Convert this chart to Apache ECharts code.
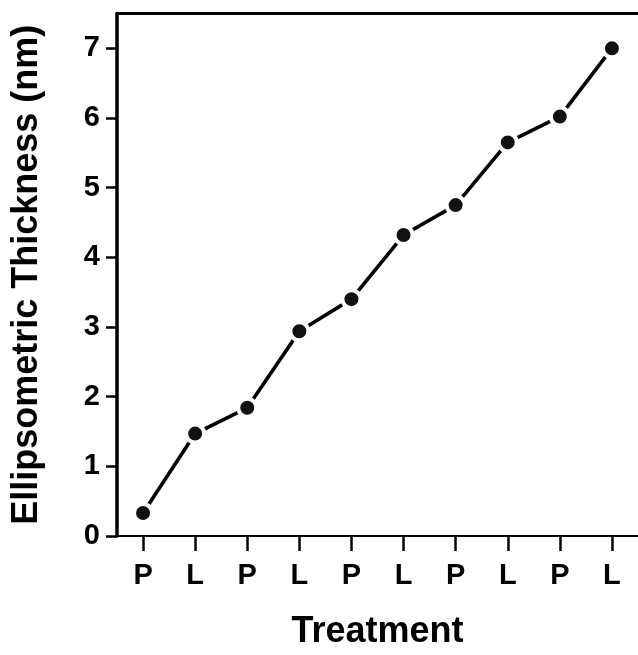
<!DOCTYPE html>
<html>
<head>
<meta charset="utf-8">
<script src="https://cdn.jsdelivr.net/npm/echarts@6/dist/echarts.min.js"></script>
<style>
html,body{margin:0;padding:0;background:#fff;}
#chart{width:638px;height:655px;}
</style>
</head>
<body>
<div id="chart"></div>
<script>
const categories = ['P','L','P','L','P','L','P','L','P','L'];
const thickness = [0.33, 1.47, 1.84, 2.94, 3.40, 4.32, 4.75, 5.65, 6.02, 7.00];
const yTicks = [0, 1, 2, 3, 4, 5, 6, 7];
const yTitle = 'Ellipsometric Thickness (nm)';
const xTitle = 'Treatment';

const FONT = '"Liberation Sans", Arial, Helvetica, sans-serif';
const chart = echarts.init(document.getElementById('chart'), null, {renderer: 'canvas'});
chart.setOption({
  animation: false,
  backgroundColor: '#fff',
  grid: {left: 117, top: 13.5, right: -4, bottom: 116, containLabel: false},
  xAxis: [{
    type: 'category',
    data: categories,
    boundaryGap: true,
    position: 'bottom',
    name: xTitle,
    nameLocation: 'middle',
    nameGap: 78,
    nameTextStyle: {fontFamily: FONT, fontWeight: 'bold', fontSize: 36, color: '#000'},
    axisLine: {show: true, lineStyle: {color: '#000', width: 2}},
    axisTick: {show: true, alignWithLabel: true, interval: 0, length: 15, lineStyle: {color: '#000', width: 2.5}},
    axisLabel: {show: true, interval: 0, margin: 25, fontFamily: FONT, fontWeight: 'bold', fontSize: 29, color: '#000'},
    splitLine: {show: false}
  }, {
    type: 'category',
    data: categories,
    position: 'top',
    axisLine: {show: true, lineStyle: {color: '#000', width: 3}},
    axisTick: {show: false},
    axisLabel: {show: false},
    splitLine: {show: false}
  }],
  yAxis: {
    type: 'value',
    min: 0,
    max: 7.5,
    interval: 1,
    name: yTitle,
    nameLocation: 'middle',
    nameGap: 72,
    nameRotate: 90,
    nameTextStyle: {fontFamily: FONT, fontWeight: 'bold', fontSize: 36, color: '#000'},
    axisLine: {show: true, lineStyle: {color: '#000', width: 3.5}},
    axisTick: {show: true, length: 11, customValues: yTicks, lineStyle: {color: '#000', width: 2.5}},
    axisLabel: {show: true, margin: 17, customValues: yTicks, fontFamily: FONT, fontWeight: 'bold', fontSize: 29, color: '#000'},
    splitLine: {show: false}
  },
  series: [{
    type: 'line',
    data: thickness,
    xAxisIndex: 0,
    symbol: 'circle',
    symbolSize: 18,
    lineStyle: {color: '#000', width: 3.6},
    itemStyle: {color: '#111', borderColor: '#fff', borderWidth: 4},
    emphasis: {disabled: true},
    z: 5
  }]
});
</script>
</body>
</html>
